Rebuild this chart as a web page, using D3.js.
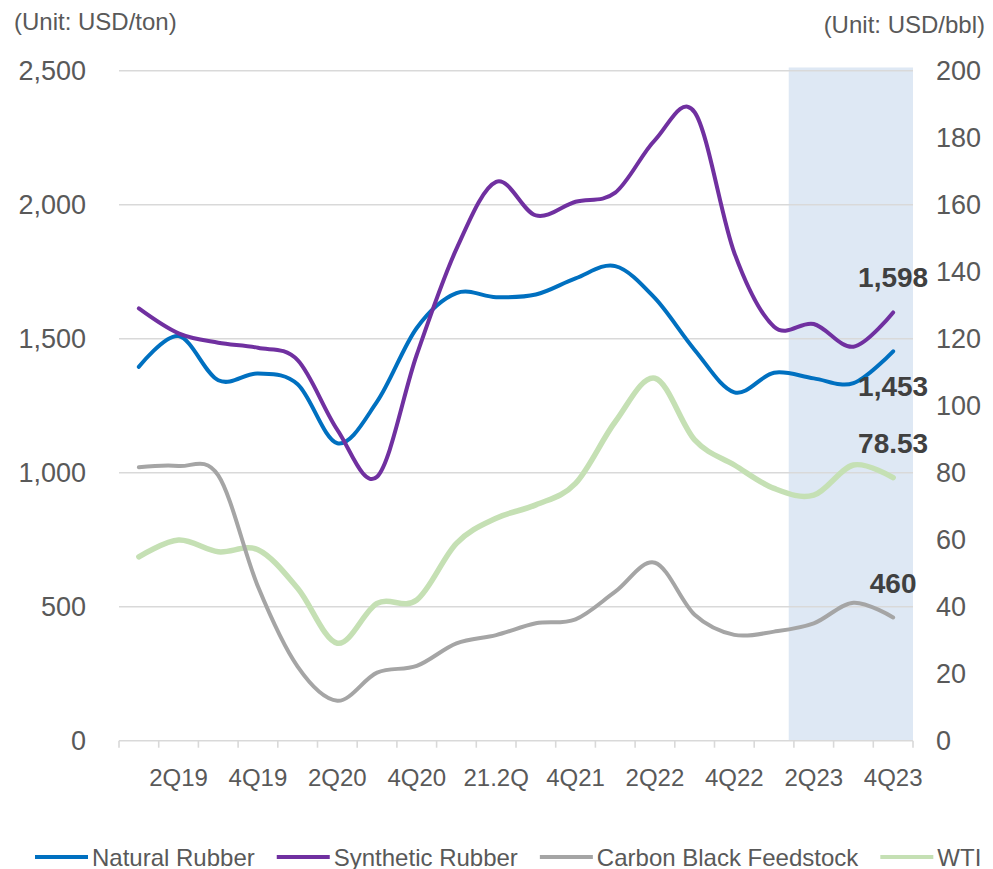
<!DOCTYPE html>
<html>
<head>
<meta charset="utf-8">
<script src="https://cdn.jsdelivr.net/npm/d3@7"></script>
<style>
  body { margin: 0; background: #fff; }
  svg { display: block; font-family: "Liberation Sans", Arial, sans-serif; }
</style>
</head>
<body>
<svg id="chart" width="993" height="869"></svg>
<script>
// quarters on the x axis, only every second one gets a label
const quarters = ["1Q19","2Q19","3Q19","4Q19","1Q20","2Q20","3Q20","4Q20","1Q21","2Q21",
                  "3Q21","4Q21","1Q22","2Q22","3Q22","4Q22","1Q23","2Q23","3Q23","4Q23"];
const xLabels = ["","2Q19","","4Q19","","2Q20","","4Q20","","21.2Q",
                 "","4Q21","","2Q22","","4Q22","","2Q23","","4Q23"];

// USD/ton (left axis)
const naturalRubber = [1395,1510,1345,1370,1330,1110,1265,1540,1670,1655,1665,1725,1771,1651,1458,1300,1373,1352,1334,1453];
const syntheticRubber = [1613,1520,1485,1466,1420,1160,985,1440,1835,2085,1960,2011,2045,2241,2345,1820,1545,1555,1470,1598];
const carbonBlack = [1020,1025,990,575,276,149,254,279,363,394,438,453,556,664,470,395,407,438,515,460];
// USD/bbl (right axis)
const wti = [54.9,59.9,56.4,57.0,45.5,29.1,41.0,42.0,58.9,66.4,70.4,76.8,95.2,108.2,89.8,82.3,75.3,73.3,82.3,78.53];

const leftTicks = [0,500,1000,1500,2000,2500];
const rightTicks = [0,20,40,60,80,100,120,140,160,180,200];

const svg = d3.select("#chart");
const textColor = "#595959";
const gridColor = "#D9D9D9";

const x = d3.scaleBand().domain(quarters).range([119, 913]).padding(0);
const xIdx = d3.scaleLinear().domain([0, quarters.length]).range(x.range());
const yL = d3.scaleLinear().domain([0, 2500]).range([740.7, 70.7]);
const yR = d3.scaleLinear().domain([0, 200]).range([740.7, 70.7]);
const cx = d => x(d) + x.bandwidth() / 2;

// forecast shading
svg.append("rect")
  .attr("x", xIdx(16.87))
  .attr("y", yL(2512))
  .attr("width", xIdx(20) - xIdx(16.87))
  .attr("height", yL(0) - yL(2512))
  .attr("fill", "#DEE8F4");

// gridlines
svg.append("g").selectAll("line")
  .data(leftTicks.filter(d => d > 0))
  .join("line")
  .attr("x1", 119).attr("x2", 913)
  .attr("y1", d => yL(d)).attr("y2", d => yL(d))
  .attr("stroke", gridColor).attr("stroke-width", 1.6);

// x axis line and ticks
svg.append("line")
  .attr("x1", 119).attr("x2", 913)
  .attr("y1", yL(0)).attr("y2", yL(0))
  .attr("stroke", gridColor).attr("stroke-width", 1.6);

svg.append("g").selectAll("line")
  .data(d3.range(quarters.length + 1))
  .join("line")
  .attr("x1", d => xIdx(d)).attr("x2", d => xIdx(d))
  .attr("y1", yL(0)).attr("y2", yL(0) + 7)
  .attr("stroke", gridColor).attr("stroke-width", 1.6);

svg.append("g").selectAll("text")
  .data(quarters.map((q, i) => ({q, label: xLabels[i]})).filter(d => d.label))
  .join("text")
  .attr("x", d => cx(d.q))
  .attr("y", 786)
  .attr("text-anchor", "middle")
  .attr("font-size", 24)
  .attr("fill", textColor)
  .text(d => d.label);

// y axis labels
svg.append("g").selectAll("text")
  .data(leftTicks)
  .join("text")
  .attr("x", 86)
  .attr("y", d => yL(d) + 9.5)
  .attr("text-anchor", "end")
  .attr("font-size", 27)
  .attr("fill", textColor)
  .text(d => d3.format(",")(d));

svg.append("g").selectAll("text")
  .data(rightTicks)
  .join("text")
  .attr("x", 936)
  .attr("y", d => yR(d) + 9.5)
  .attr("text-anchor", "start")
  .attr("font-size", 27)
  .attr("fill", textColor)
  .text(d => d);

svg.append("text")
  .attr("x", 14).attr("y", 30)
  .attr("font-size", 24).attr("fill", textColor)
  .text("(Unit: USD/ton)");

svg.append("text")
  .attr("x", 985).attr("y", 33)
  .attr("text-anchor", "end")
  .attr("font-size", 24).attr("fill", textColor)
  .text("(Unit: USD/bbl)");

// series
const series = [
  {name: "Natural Rubber", values: naturalRubber, color: "#0070C0", width: 4, y: yL, label: "1,453", dy: 35},
  {name: "Synthetic Rubber", values: syntheticRubber, color: "#7030A0", width: 4, y: yL, label: "1,598", dy: -35},
  {name: "Carbon Black Feedstock", values: carbonBlack, color: "#A5A5A5", width: 4, y: yL, label: "460", dy: -34},
  {name: "WTI", values: wti, color: "#C5E0B4", width: 5.5, y: yR, label: "78.53", dy: -35}
];

const drawOrder = [series[3], series[2], series[0], series[1]];
drawOrder.forEach(s => {
  const line = d3.line()
    .x((d, i) => cx(quarters[i]))
    .y(d => s.y(d))
    .curve(d3.curveCardinal.tension(0));
  svg.append("path")
    .datum(s.values)
    .attr("d", line)
    .attr("fill", "none")
    .attr("stroke", s.color)
    .attr("stroke-width", s.width)
    .attr("stroke-linecap", "round")
    .attr("stroke-linejoin", "round");
});

// end-point labels
series.forEach(s => {
  const last = s.values.length - 1;
  svg.append("text")
    .attr("x", cx(quarters[last]))
    .attr("y", s.y(s.values[last]) + s.dy + 10)
    .attr("text-anchor", "middle")
    .attr("font-size", 28)
    .attr("font-weight", "bold")
    .attr("fill", "#404040")
    .text(s.label);
});

// legend
const legend = svg.append("g").attr("transform", "translate(0,857)");
let lx = 35;
series.forEach(s => {
  legend.append("line")
    .attr("x1", lx).attr("x2", lx + 53)
    .attr("y1", 0).attr("y2", 0)
    .attr("stroke", s.color).attr("stroke-width", 4);
  const t = legend.append("text")
    .attr("x", lx + 57).attr("y", 8.5)
    .attr("font-size", 24)
    .attr("fill", textColor)
    .text(s.name);
  lx += 57 + t.node().getComputedTextLength() + 22;
});
</script>
</body>
</html>
